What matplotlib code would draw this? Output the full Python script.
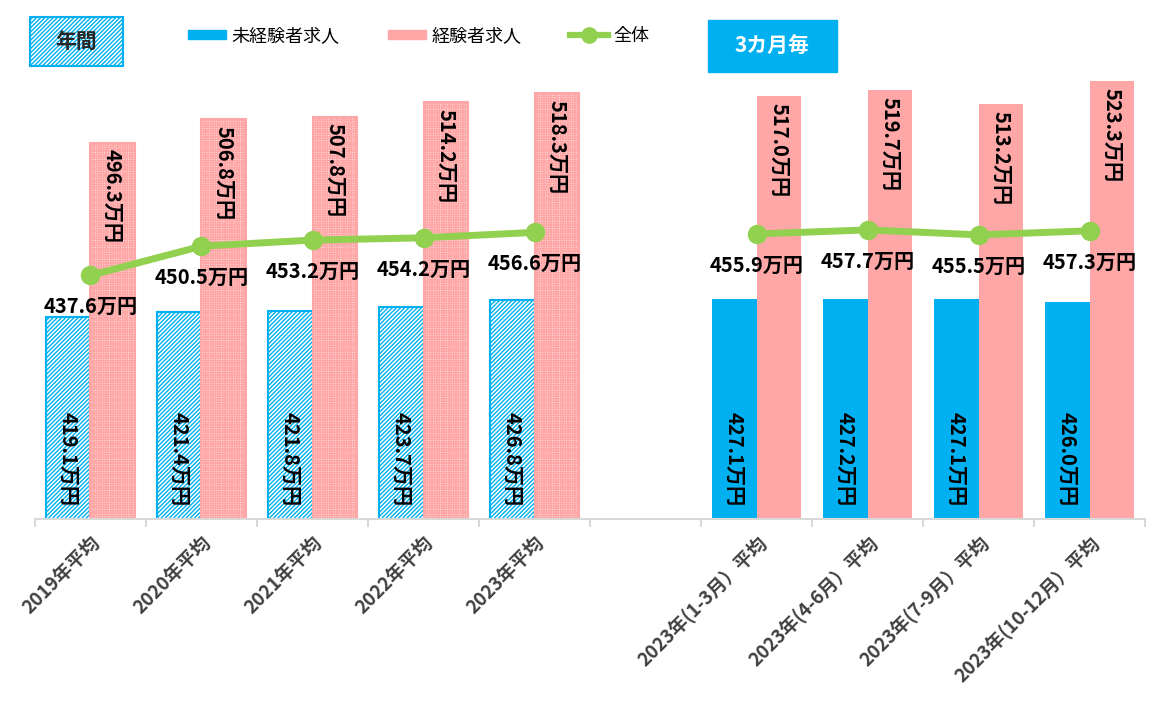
import matplotlib
matplotlib.use('Agg')
import matplotlib.pyplot as plt
from matplotlib.patches import Rectangle, Patch
from matplotlib.lines import Line2D
import numpy as np

plt.rcParams['font.family'] = ['Noto Sans CJK JP', 'DejaVu Sans']
plt.rcParams['hatch.linewidth'] = 1.0

# data
categories = ['2019年平均', '2020年平均', '2021年平均', '2022年平均', '2023年平均', '',
              '2023年(1-3月）平均', '2023年(4-6月）平均', '2023年(7-9月）平均', '2023年(10-12月）平均']
inexperienced = [419.1, 421.4, 421.8, 423.7, 426.8, np.nan, 427.1, 427.2, 427.1, 426.0]
experienced = [496.3, 506.8, 507.8, 514.2, 518.3, np.nan, 517.0, 519.7, 513.2, 523.3]
overall = [437.6, 450.5, 453.2, 454.2, 456.6, np.nan, 455.9, 457.7, 455.5, 457.3]
annual = [True, True, True, True, True, False, False, False, False, False]

BLUE = '#00B0F0'
PINK = '#FFA6A6'
GREEN = '#92D050'
LABEL_SIZE = 14.5

fig = plt.figure(figsize=(11.64, 7.05), dpi=100)
ax = fig.add_axes([0.030, 0.264, 0.954, 0.642])

x = np.arange(len(categories))
w = 0.4

for i in range(len(categories)):
    if np.isnan(inexperienced[i]):
        continue
    if annual[i]:
        ax.bar(x[i] - w / 2, inexperienced[i], w, facecolor='white', edgecolor=BLUE,
               hatch='////////', linewidth=1.5)
        ax.bar(x[i] + w / 2, experienced[i], w, facecolor='#FFE8E8', edgecolor=PINK,
               hatch='+++++++', linewidth=1.5)
    else:
        ax.bar(x[i] - w / 2, inexperienced[i], w, color=BLUE)
        ax.bar(x[i] + w / 2, experienced[i], w, color=PINK)

    ax.annotate(f'{inexperienced[i]:.1f}万円', (x[i] - w / 2, 330), xytext=(0, 9),
                textcoords='offset points', rotation=-90, ha='center', va='bottom',
                fontsize=LABEL_SIZE, fontweight='bold')
    ax.annotate(f'{experienced[i]:.1f}万円', (x[i] + w / 2, experienced[i]), xytext=(0, -5),
                textcoords='offset points', rotation=-90, ha='center', va='top',
                fontsize=LABEL_SIZE, fontweight='bold')

ax.plot(x, overall, color=GREEN, linewidth=5, marker='o', markersize=13, zorder=5)
for i in range(len(categories)):
    if np.isnan(overall[i]):
        continue
    ax.annotate(f'{overall[i]:.1f}万円', (x[i], overall[i]), xytext=(0, -15),
                textcoords='offset points', ha='center', va='top',
                fontsize=LABEL_SIZE, fontweight='bold', zorder=6)

ax.set_xlim(-0.5, len(categories) - 0.5)
ax.set_ylim(330, 530)
ax.set_yticks([])
for s in ['top', 'right', 'left']:
    ax.spines[s].set_visible(False)
ax.spines['bottom'].set_color('#D9D9D9')
ax.spines['bottom'].set_linewidth(1.5)

ax.set_xticks(x)
ax.set_xticklabels(categories, rotation=45, ha='right', rotation_mode='anchor',
                   fontsize=13.5, fontweight='bold', color='#404040')
ax.tick_params(axis='x', which='major', length=0, pad=10)
ax.set_xticks(np.arange(-0.5, len(categories), 1), minor=True)
ax.tick_params(axis='x', which='minor', length=6, color='#D9D9D9', width=1.5)

# legend
handles = [Patch(facecolor=BLUE, edgecolor=BLUE),
           Patch(facecolor=PINK, edgecolor=PINK),
           Line2D([0], [0], color=GREEN, linewidth=4.5, marker='o', markersize=11)]
fig.legend(handles, ['未経験者求人', '経験者求人', '全体'], loc='center',
           bbox_to_anchor=(0.36, 0.949), ncol=3, frameon=False, fontsize=13,
           handlelength=2.1, handleheight=0.45, handletextpad=0.3, columnspacing=2.7)

# header boxes
fig.add_artist(Rectangle((0.0258, 0.9064), 0.0799, 0.0695, transform=fig.transFigure,
                         facecolor='white', edgecolor=BLUE, hatch='////////', linewidth=1.5))
fig.text(0.0258 + 0.0799 / 2, 0.9064 + 0.0695 / 2, '年間', ha='center', va='center',
         fontsize=15, fontweight='bold', color='#262626')
fig.add_artist(Rectangle((0.6082, 0.8979), 0.1108, 0.0738, transform=fig.transFigure,
                         facecolor=BLUE, edgecolor=BLUE))
fig.text(0.6082 + 0.1108 / 2, 0.8979 + 0.0738 / 2, '3カ月毎', ha='center', va='center',
         fontsize=15, fontweight='bold', color='white')

fig.savefig('out.png', dpi=100)
